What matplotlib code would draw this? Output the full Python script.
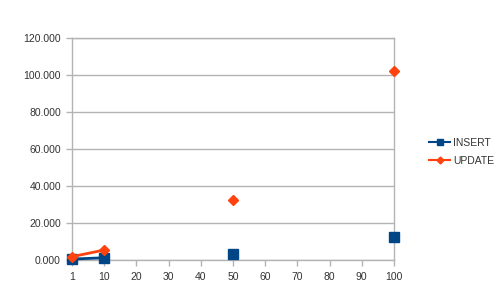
import matplotlib
matplotlib.use('Agg')
from matplotlib import pyplot as plt
from matplotlib.ticker import FuncFormatter
import numpy as np

categories = ["1", "10", "20", "30", "40", "50", "60", "70", "80", "90", "100"]
# only some categories have values, the rest are gaps
insert_vals = [0.5, 1.2, None, None, None, 3.2, None, None, None, None, 12.4]
update_vals = [1.8, 5.4, None, None, None, 32.4, None, None, None, None, 102.3]
y_ticks = [0, 20, 40, 60, 80, 100, 120]

plt.rcParams['font.family'] = ['Liberation Sans', 'DejaVu Sans']

fig = plt.figure(figsize=(5.0, 3.07), dpi=100)
ax = fig.add_axes([72 / 500, 47 / 307, 322 / 500, 222 / 307])

x = np.arange(len(categories))
ins = np.array([np.nan if v is None else v for v in insert_vals])
upd = np.array([np.nan if v is None else v for v in update_vals])

ax.plot(x, ins, color="#004586", lw=2, marker="s", ms=7, label="INSERT", zorder=3,
        clip_on=False)
ax.plot(x, upd, color="#ff420e", lw=2, marker="D", ms=5, label="UPDATE", zorder=4,
        clip_on=False)

ax.set_xlim(0, len(categories) - 1)
ax.set_ylim(0, 120)
ax.set_xticks(x)
ax.set_xticklabels(categories)
ax.set_yticks(y_ticks)
ax.yaxis.set_major_formatter(FuncFormatter(lambda v, p: "%.3f" % v))

ax.grid(axis='y', color="#b3b3b3", lw=1)
ax.set_axisbelow(True)
for s in ax.spines.values():
    s.set_color("#b3b3b3")
    s.set_linewidth(1)
ax.tick_params(axis='both', colors="#b3b3b3", labelcolor="#333333", labelsize=7.5,
               length=4, width=1)
ax.tick_params(axis='x', pad=5)
ax.tick_params(axis='y', pad=4)

leg = fig.legend(loc='center left', bbox_to_anchor=(425 / 500, 1 - 152 / 307),
                 frameon=False, fontsize=7.5, handlelength=2.0, handletextpad=0.3,
                 labelspacing=0.75, borderaxespad=0, markerscale=0.7)
for line in leg.get_lines():
    line.set_linewidth(1.5)
for t in leg.get_texts():
    t.set_color("#333333")

fig.savefig("out.png", dpi=100)
